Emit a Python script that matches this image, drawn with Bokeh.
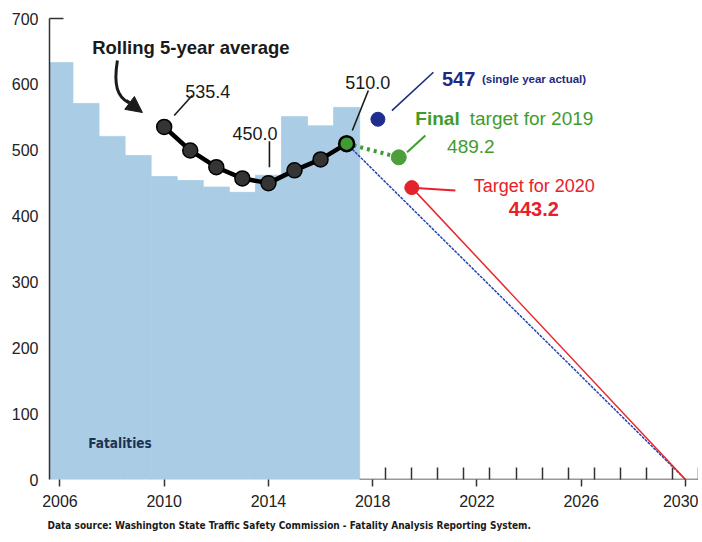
from bokeh.plotting import figure
from bokeh.models import FixedTicker, Label, Arrow, NormalHead, Range1d, Title
from bokeh.embed import file_html
from bokeh.resources import INLINE

# ---------------- data ----------------
years = [2006, 2007, 2008, 2009, 2010, 2011, 2012, 2013, 2014, 2015, 2016, 2017]
fatalities = [633, 571, 521, 492, 460, 454, 444, 436, 462, 551, 537, 565]

roll_years = [2010, 2011, 2012, 2013, 2014, 2015, 2016, 2017]
roll_avg = [535.4, 499.6, 474.2, 457.2, 450.0, 469.4, 486.0, 510.0]

actual_year = [2018.2]
actual_value = [547]
target2019_year = [2019]
target2019_value = [489.2]
target2020_year = [2019.5]
target2020_value = [443.2]
goal_year = 2030
goal_value = 0

x_ticks = [2006, 2010, 2014, 2018, 2022, 2026, 2030]
x_minor = [2018.5, 2019.5, 2020.5, 2021.5, 2022.5, 2023.5, 2024.5,
           2025.5, 2026.5, 2027.5, 2028.5, 2029.5, 2030.5]
y_ticks = [0, 100, 200, 300, 400, 500, 600, 700]

source_text = "Data source: Washington State Traffic Safety Commission - Fatality Analysis Reporting System."

# ---------------- figure ----------------
W, H = 698, 540
ML, MR, MT, MB = 49, 0, 18, 61
X0, X1 = 2005.6, 2030.5
Y0, Y1 = 0, 700
PXX = (W - ML - MR) / (X1 - X0)
PXY = (H - MT - MB) / (Y1 - Y0)

FONT = "Liberation Sans"
NARROW = "DejaVu Sans Condensed"

p = figure(width=W, height=H, x_range=Range1d(X0, X1), y_range=Range1d(Y0, Y1),
           output_backend="svg", toolbar_location=None,
           min_border_left=ML, min_border_right=MR, min_border_top=MT, min_border_bottom=MB)
p.outline_line_color = None
p.xgrid.grid_line_color = None
p.ygrid.grid_line_color = None
p.background_fill_color = "white"
p.border_fill_color = "white"

BAR = "#aacde5"
# bars
p.vbar(x=years, top=fatalities, width=1.0, fill_color=BAR, line_color=BAR, line_width=0.8)

# projection lines
p.line([roll_years[-1], goal_year], [roll_avg[-1], goal_value], line_color="#2746ad",
       line_width=1.5, line_dash="3 1")
p.line([target2020_year[0], goal_year], [target2020_value[0], goal_value], line_color="#e8262b",
       line_width=1.5)
p.line([roll_years[-1], target2019_year[0]], [roll_avg[-1], target2019_value[0]],
       line_color="#3f9c34", line_width=4, line_dash="3 4")

# rolling average
p.line(roll_years, roll_avg, line_color="black", line_width=4.5)
p.scatter(roll_years[:-1], roll_avg[:-1], size=15, fill_color="#343434", line_color="black",
          line_width=1.5)
p.scatter(roll_years[-1:], roll_avg[-1:], size=15, fill_color="#3f9c34", line_color="black",
          line_width=2.5)

# points
p.scatter(actual_year, actual_value, size=14, fill_color="#1f2d8f", line_color="#1f2d8f")
p.scatter(target2019_year, target2019_value, size=15, fill_color="#4c9f3a", line_color="#4c9f3a")
p.scatter(target2020_year, target2020_value, size=14, fill_color="#e3232b", line_color="#e3232b")

# ---------------- axes ----------------
xa = p.xaxis[0]
xa.ticker = FixedTicker(ticks=x_ticks, minor_ticks=x_minor)
xa.axis_line_color = None
xa.major_tick_in = 0
xa.major_tick_out = 7
xa.major_tick_line_color = "#333333"
xa.major_tick_line_width = 1.5
xa.minor_tick_in = 12
xa.minor_tick_out = 0
xa.minor_tick_line_color = "#333333"
xa.minor_tick_line_width = 1.5
xa.major_label_text_font = FONT
xa.major_label_text_font_size = "16px"
xa.major_label_text_color = "#222222"
xa.major_label_standoff = 8

ya = p.yaxis[0]
ya.ticker = FixedTicker(ticks=y_ticks, minor_ticks=[y_ticks[-1]])
ya.axis_line_color = "#333333"
ya.axis_line_width = 1.5
ya.major_tick_in = 0
ya.major_tick_out = 0
ya.minor_tick_in = 14
ya.minor_tick_out = 0
ya.minor_tick_line_color = "#333333"
ya.minor_tick_line_width = 1.5
ya.major_label_text_font = FONT
ya.major_label_text_font_size = "16px"
ya.major_label_text_color = "#222222"
ya.major_label_standoff = 11

# baseline to the right of the bars
p.add_layout(Arrow(x_start=years[-1] + 0.5, y_start=0, x_end=X1, y_end=0, start=None, end=None,
                   line_color="#333333", line_width=1.5))

# spacer, then the source note below the axis
p.add_layout(Title(text=" ", text_font_size="6px", standoff=0), "below")
p.add_layout(Title(text=source_text, align="left", offset=-2, standoff=0,
                   text_font=NARROW, text_font_size="10px", text_font_style="bold",
                   text_color="#1a1a1a"), "below")


# ---------------- annotations ----------------
def ox(x, d):
    return x + d / PXX


def oy(y, d):
    return y + d / PXY


def lab(text, x, y, dx, dy, size, color, style="normal", font=FONT):
    p.add_layout(Label(x=x, y=y, x_offset=dx, y_offset=dy, text=text, text_font=font,
                       text_font_size=f"{size}px", text_font_style=style, text_color=color,
                       text_baseline="alphabetic", text_align="left"))


def leader(x, y, a, b, color, w=1.6):
    p.segment(x0=[ox(x, a[0])], y0=[oy(y, a[1])], x1=[ox(x, b[0])], y1=[oy(y, b[1])],
              line_color=color, line_width=w)


rx, ry = roll_years[0], roll_avg[0]
lab("Rolling 5-year average", rx, ry, -72, 79, 18.5, "#1a1a1a", "bold")
# curved arrow
p.bezier(x0=[ox(rx, -46.8)], y0=[oy(ry, 66.4)], x1=[ox(rx, -35.8)], y1=[oy(ry, 24.4)],
         cx0=[ox(rx, -50.8)], cy0=[oy(ry, 41.4)], cx1=[ox(rx, -46.8)], cy1=[oy(ry, 30.4)],
         line_color="#1a1a1a", line_width=3)
p.add_layout(Arrow(x_start=ox(rx, -37.8), y_start=oy(ry, 26.4), x_end=ox(rx, -21.8),
                   y_end=oy(ry, 14.4), line_color="#1a1a1a", line_width=3,
                   end=NormalHead(size=16, fill_color="#1a1a1a", line_color="#1a1a1a")))

lab(f"{roll_avg[0]:.1f}", rx, ry, 21, 35.7, 18, "#1a1a1a")
leader(rx, ry, (10, 11.4), (28, 31.4), "#1a1a1a")

mx, my = roll_years[4], roll_avg[4]
lab(f"{roll_avg[4]:.1f}", mx, my, -36, 50, 18, "#1a1a1a")
leader(mx, my, (1, 16), (1, 42), "#1a1a1a")

ex, ey = roll_years[-1], roll_avg[-1]
lab(f"{roll_avg[-1]:.1f}", ex, ey, -1.3, 61.4, 18, "#1a1a1a")
leader(ex, ey, (5.7, 13.1), (21.7, 53.1), "#1a1a1a")

bx, by = actual_year[0], actual_value[0]
lab(f"{actual_value[0]}", bx, by, 64, 40.4, 20, "#1f2a80", "bold")
lab("(single year actual)", bx, by, 104, 40.6, 11.5, "#1f2a80", "bold")
leader(bx, by, (14, 8.7), (55.5, 47), "#1f2a80")

gx, gy = target2019_year[0], target2019_value[0]
lab("Final", gx, gy, 16.6, 38.5, 19, "#3f9c2c", "bold")
lab("target for 2019", gx, gy, 71, 38.5, 19, "#3f9c2c")
lab(f"{target2019_value[0]:.1f}", gx, gy, 48.3, 11.1, 19, "#3f9c2c")
leader(gx, gy, (8.3, 5.1), (26.6, 21.8), "#3f9c2c", 2)

tx, ty = target2020_year[0], target2020_value[0]
lab("Target for 2020", tx, ty, 62, 2.1, 18, "#e8202a")
lab(f"{target2020_value[0]:.1f}", tx, ty, 97, -21.2, 20, "#e8202a", "bold")
leader(tx, ty, (4, -0.3), (43.6, -2.9), "#e8202a", 2)

lab("Fatalities", years[0], 0, 28.4, 37, 13.5, "#1c3353", "bold", NARROW)

open("out.html", "w").write(file_html(p, INLINE))
